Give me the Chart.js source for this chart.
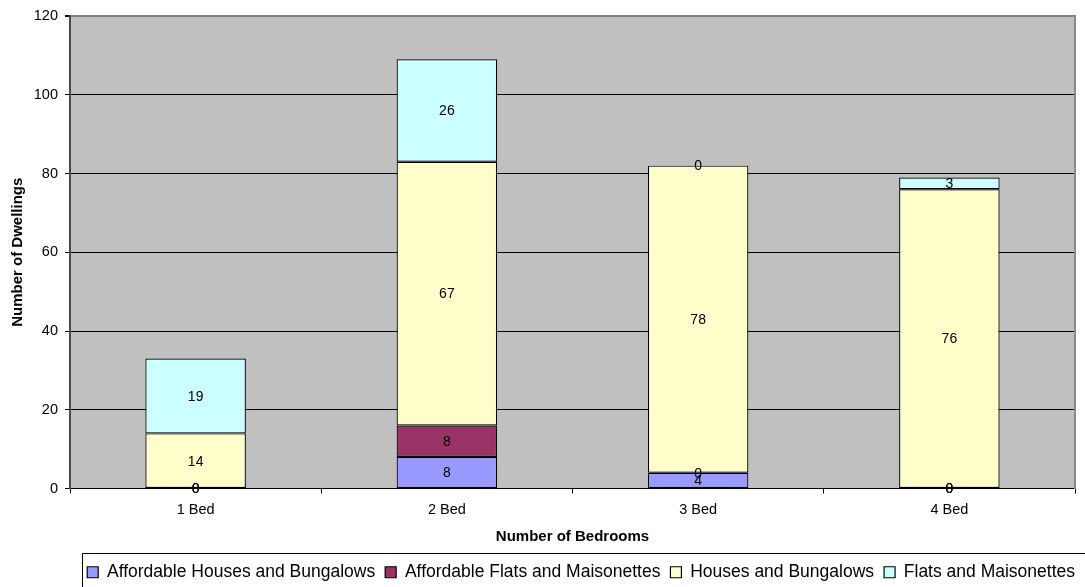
<!DOCTYPE html>
<html><head><meta charset="utf-8">
<script src="https://cdn.jsdelivr.net/npm/chart.js@4.4.0/dist/chart.umd.min.js"></script>
<style>html,body{margin:0;padding:0;background:#fff;overflow:hidden;width:1085px;height:587px}canvas{display:block}</style>
</head><body><canvas id="c" width="1085" height="591" style="width:1085px;height:591px"></canvas>
<script>
const categories = ['1 Bed', '2 Bed', '3 Bed', '4 Bed'];
const affordableHouses = [0, 8, 4, 0];
const affordableFlats = [0, 8, 0, 0];
const housesBungalows = [14, 67, 78, 76];
const flatsMaisonettes = [19, 26, 0, 3];
const seriesNames = ['Affordable Houses and Bungalows', 'Affordable Flats and Maisonettes', 'Houses and Bungalows', 'Flats and Maisonettes'];
const seriesColors = ['#9999FF', '#993366', '#FFFFCC', '#CCFFFF'];
const yMin = 0, yMax = 120, yStep = 20;
const seriesValues = [affordableHouses, affordableFlats, housesBungalows, flatsMaisonettes];

Chart.defaults.font.family = '"Liberation Sans", Arial, sans-serif';
Chart.defaults.color = '#000';

const plotBg = {
  id: 'plotBg',
  beforeDraw(chart) {
    const {ctx, chartArea: a} = chart;
    ctx.save();
    ctx.fillStyle = '#C0C0C0';
    ctx.fillRect(a.left, a.top, a.right - a.left, a.bottom - a.top);
    ctx.restore();
  }
};
const valueLabels = {
  id: 'valueLabels',
  afterDatasetsDraw(chart) {
    const ctx = chart.ctx;
    ctx.save();
    ctx.font = '14px "Liberation Sans", Arial, sans-serif';
    ctx.fillStyle = '#000';
    ctx.textAlign = 'center';
    ctx.textBaseline = 'middle';
    chart.data.datasets.forEach((ds, i) => {
      const meta = chart.getDatasetMeta(i);
      meta.data.forEach((el, j) => {
        const p = el.getProps(['x', 'y', 'base'], true);
        ctx.fillText(String(ds.data[j]), p.x, (p.y + p.base) / 2 + 1);
      });
    });
    ctx.restore();
  }
};
const legendFrame = {
  id: 'legendFrame',
  afterDraw(chart) {
    const lg = chart.legend;
    if (!lg || !lg.legendHitBoxes.length) return;
    const ctx = chart.ctx;
    const x0 = Math.round(lg.legendHitBoxes[0].left - 5) + 0.5;
    const y0 = Math.round(lg.top) - 0.5;
    ctx.save();
    ctx.strokeStyle = '#000';
    ctx.lineWidth = 1;
    ctx.strokeRect(x0, y0, chart.width, lg.bottom - lg.top + 20);
    ctx.restore();
  }
};

new Chart(document.getElementById('c'), {
  type: 'bar',
  data: {
    labels: categories,
    datasets: seriesValues.map((vals, i) => ({
      label: seriesNames[i],
      data: vals,
      backgroundColor: seriesColors[i],
      borderColor: '#000',
      borderWidth: 1.2,
      borderSkipped: false,
      categoryPercentage: 1,
      barPercentage: 0.4
    }))
  },
  options: {
    responsive: false,
    animation: false,
    layout: {padding: {top: 16, left: 0, right: 0, bottom: 0}},
    plugins: {
      tooltip: {enabled: false},
      legend: {
        position: 'bottom',
        align: 'end',
        labels: {
          boxWidth: 11,
          boxHeight: 11,
          padding: 10,
          color: '#000',
          font: {size: 17.5}
        }
      }
    },
    scales: {
      x: {
        stacked: true,
        grid: {display: true, drawOnChartArea: false, offset: true, color: '#000', tickLength: 5},
        border: {display: true, color: '#000', width: 1},
        ticks: {font: {size: 14.5}, padding: 8, color: '#000'},
        title: {display: true, text: 'Number of Bedrooms', font: {size: 15, weight: 'bold'}, padding: {top: 0, bottom: 8}, color: '#000'},
        afterFit(s) { s.height = 65; }
      },
      y: {
        stacked: true,
        min: yMin,
        max: yMax,
        grid: {
          color: (c) => (c.tick && c.tick.value === yMax) ? '#808080' : '#000',
          lineWidth: (c) => (c.tick && c.tick.value === yMax) ? 2 : 1,
          tickLength: 5,
          tickColor: '#000'
        },
        border: {display: true, color: '#4a4a4a', width: 2},
        ticks: {stepSize: yStep, font: {size: 14.5}, padding: 7, color: '#000'},
        title: {display: true, text: 'Number of Dwellings', font: {size: 15, weight: 'bold'}, padding: {top: 9, bottom: 0}, color: '#000'},
        afterFit(s) { s.width = 70; }
      },
      yRight: {
        type: 'linear',
        position: 'right',
        display: true,
        grid: {display: false},
        ticks: {display: false},
        border: {display: true, color: '#8a8a8a', width: 2},
        afterFit(s) { s.width = 10; }
      }
    }
  },
  plugins: [plotBg, valueLabels, legendFrame]
});
</script>
</body></html>
